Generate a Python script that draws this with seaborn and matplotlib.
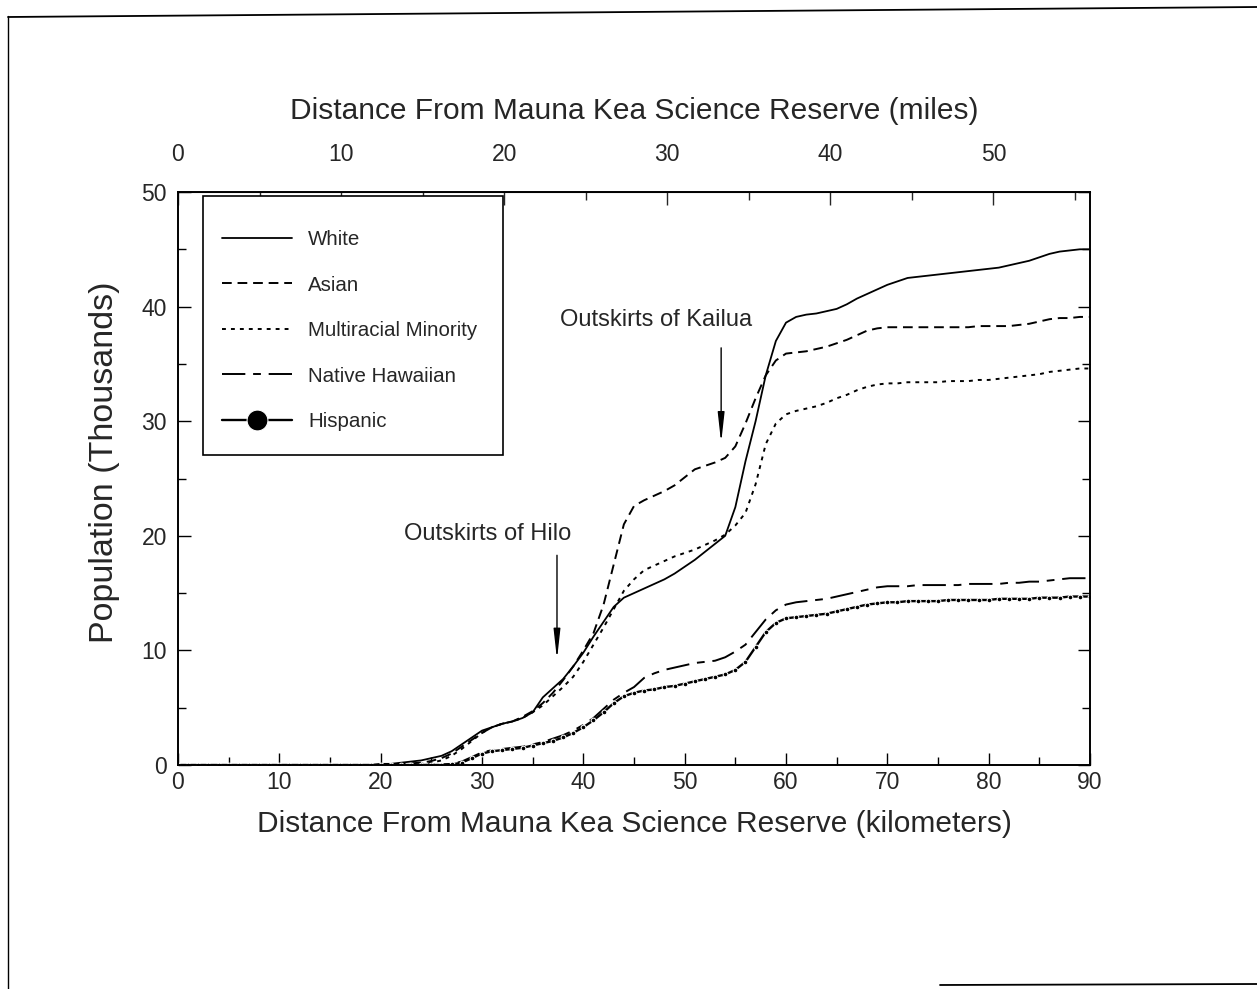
import numpy as np
import pandas as pd
import matplotlib
matplotlib.use("Agg")
import matplotlib.pyplot as plt
from matplotlib.lines import Line2D
from matplotlib.patches import Rectangle
from matplotlib.ticker import MultipleLocator
import seaborn as sns

# ---------------- data (population in thousands, by km from reserve) ----------------
km = list(range(0, 91))

white = [0]*20 + [
    0.1, 0.1, 0.2, 0.3, 0.4, 0.6, 0.8, 1.2, 1.8, 2.4,          # 20-29
    3.0, 3.3, 3.6, 3.8, 4.1, 4.6, 5.9, 6.7, 7.5, 8.6,          # 30-39
    9.8, 11.2, 12.5, 13.8, 14.6, 15.0, 15.4, 15.8, 16.2, 16.7, # 40-49
    17.3, 17.9, 18.6, 19.3, 20.0, 22.5, 26.5, 30.0, 34.0, 37.0,# 50-59
    38.6, 39.1, 39.3, 39.4, 39.6, 39.8, 40.2, 40.7, 41.1, 41.5,# 60-69
    41.9, 42.2, 42.5, 42.6, 42.7, 42.8, 42.9, 43.0, 43.1, 43.2,# 70-79
    43.3, 43.4, 43.6, 43.8, 44.0, 44.3, 44.6, 44.8, 44.9, 45.0,# 80-89
    45.0]

asian = [0]*21 + [
    0.05, 0.1, 0.15, 0.2, 0.35, 0.6, 1.0, 1.6, 2.2,            # 21-29
    2.8, 3.3, 3.6, 3.8, 4.2, 4.7, 5.4, 6.3, 7.4, 8.6,          # 30-39
    10.0, 11.5, 14.0, 17.5, 21.0, 22.6, 23.1, 23.5, 23.9, 24.4,# 40-49
    25.1, 25.8, 26.1, 26.4, 26.8, 27.8, 29.8, 32.0, 34.0, 35.3,# 50-59
    35.9, 36.0, 36.1, 36.3, 36.5, 36.8, 37.1, 37.5, 37.9, 38.1,# 60-69
    38.2, 38.2, 38.2, 38.2, 38.2, 38.2, 38.2, 38.2, 38.2, 38.3,# 70-79
    38.3, 38.3, 38.3, 38.4, 38.5, 38.7, 38.9, 39.0, 39.0, 39.1,# 80-89
    39.1]

multiracial = [0]*23 + [
    0.05, 0.1, 0.2, 0.4, 0.8, 1.4, 2.1,                        # 23-29
    2.8, 3.3, 3.6, 3.8, 4.1, 4.6, 5.2, 6.0, 6.8, 7.7,          # 30-39
    9.0, 10.5, 12.0, 13.6, 15.2, 16.2, 17.0, 17.4, 17.8, 18.2, # 40-49
    18.5, 18.8, 19.2, 19.6, 20.1, 20.9, 22.0, 24.5, 28.0, 29.8,# 50-59
    30.6, 30.9, 31.1, 31.3, 31.6, 32.0, 32.3, 32.7, 33.0, 33.2,# 60-69
    33.3, 33.3, 33.4, 33.4, 33.4, 33.4, 33.5, 33.5, 33.5, 33.6,# 70-79
    33.6, 33.7, 33.8, 33.9, 34.0, 34.1, 34.3, 34.4, 34.5, 34.6,# 80-89
    34.6]

native_hawaiian = [0]*25 + [
    0.02, 0.05, 0.1, 0.3, 0.7,                                 # 25-29
    1.1, 1.3, 1.4, 1.5, 1.6, 1.8, 2.0, 2.3, 2.6, 3.0,          # 30-39
    3.5, 4.1, 4.9, 5.7, 6.3, 6.8, 7.6, 8.0, 8.3, 8.5,          # 40-49
    8.7, 8.9, 9.0, 9.1, 9.4, 9.9, 10.5, 11.6, 12.7, 13.5,      # 50-59
    14.0, 14.2, 14.3, 14.4, 14.5, 14.7, 14.9, 15.1, 15.3, 15.5,# 60-69
    15.6, 15.6, 15.6, 15.7, 15.7, 15.7, 15.7, 15.7, 15.8, 15.8,# 70-79
    15.8, 15.8, 15.9, 15.9, 16.0, 16.0, 16.1, 16.2, 16.3, 16.3,# 80-89
    16.3]

hispanic = [0]*27 + [
    0.05, 0.2, 0.6,                                            # 27-29
    1.0, 1.2, 1.3, 1.4, 1.5, 1.7, 1.9, 2.1, 2.4, 2.8,          # 30-39
    3.3, 3.9, 4.6, 5.4, 6.0, 6.3, 6.5, 6.6, 6.8, 6.9,          # 40-49
    7.1, 7.3, 7.5, 7.7, 7.9, 8.3, 9.0, 10.3, 11.6, 12.4,       # 50-59
    12.8, 12.9, 13.0, 13.1, 13.2, 13.4, 13.6, 13.8, 14.0, 14.1,# 60-69
    14.2, 14.2, 14.3, 14.3, 14.3, 14.3, 14.4, 14.4, 14.4, 14.4,# 70-79
    14.4, 14.5, 14.5, 14.5, 14.5, 14.6, 14.6, 14.6, 14.7, 14.7,# 80-89
    14.7]

series_names = ["White", "Asian", "Multiracial Minority", "Native Hawaiian", "Hispanic"]
series_values = [white, asian, multiracial, native_hawaiian, hispanic]

x_ticks_km = [0, 10, 20, 30, 40, 50, 60, 70, 80, 90]
y_ticks = [0, 10, 20, 30, 40, 50]
top_ticks_mi = [0, 10, 20, 30, 40, 50]

annotations = [
    ("Outskirts of Hilo", 30.6, 20.2, 37.4, 18.3, 9.2),
    ("Outskirts of Kailua", 47.2, 38.8, 53.6, 36.4, 28.1),
]

# ---------------- styling ----------------
sns.set_style("ticks")
plt.rcParams['font.family'] = ['Liberation Sans', 'DejaVu Sans']

df = pd.DataFrame({"km": km})
for n, v in zip(series_names, series_values):
    df[n] = v

fig = plt.figure(figsize=(12.57, 9.89), dpi=100)
ax = fig.add_axes([178/1257, 1 - 765/989, 912/1257, 573/989])

styles = {
    "White": dict(linestyle="-", lw=1.3),
    "Asian": dict(linestyle=(0, (5, 3)), lw=1.4),
    "Multiracial Minority": dict(linestyle=(0, (2, 2.6)), lw=1.4),
    "Native Hawaiian": dict(linestyle=(0, (12, 4, 4, 4)), lw=1.4),
    "Hispanic": dict(linestyle="-", lw=1.7, marker="o", markersize=3.4),
}

for n in series_names:
    sns.lineplot(data=df, x="km", y=n, ax=ax, color="black", label=n,
                 legend=False, **styles[n])

ax.set_xlim(0, 90)
ax.set_ylim(0, 50)
ax.set_xticks(x_ticks_km)
ax.set_yticks(y_ticks)
ax.xaxis.set_minor_locator(MultipleLocator(5))
ax.yaxis.set_minor_locator(MultipleLocator(5))
ax.tick_params(which="both", direction="in", top=False, right=True,
               labelsize=16.5, color="black")
ax.tick_params(which="major", length=9, width=1)
ax.tick_params(which="minor", length=6, width=1)
ax.tick_params(axis="x", pad=4)
ax.tick_params(axis="y", pad=8)
for s in ax.spines.values():
    s.set_linewidth(1.4)
    s.set_color("black")

ax.set_xlabel("Distance From Mauna Kea Science Reserve (kilometers)",
              fontsize=21.5, labelpad=12)
ax.set_ylabel("Population (Thousands)", fontsize=24.5)
ax.yaxis.set_label_coords((120 - 178) / 912, (765 - 462) / 573)

secax = ax.secondary_xaxis("top", functions=(lambda k: k / 1.609344,
                                              lambda m: m * 1.609344))
secax.set_xticks(top_ticks_mi)
secax.xaxis.set_minor_locator(MultipleLocator(5))
secax.tick_params(which="both", direction="in", labelsize=16.5, pad=19)
secax.tick_params(which="major", length=9, width=1)
secax.tick_params(which="minor", length=6, width=1)
secax.set_xlabel("Distance From Mauna Kea Science Reserve (miles)",
                 fontsize=21.5, labelpad=17)

# annotations with arrows
for text, tx, ty, ax_x, a_y0, a_y1 in annotations:
    ax.text(tx, ty, text, fontsize=17, ha="center", va="center")
    ax.annotate("", xy=(ax_x, a_y1), xytext=(ax_x, a_y0),
                arrowprops=dict(arrowstyle="-|>,head_width=0.2,head_length=1.8",
                                color="black", lw=1.0, shrinkA=0, shrinkB=0))

# legend box (frame drawn separately so that padding matches the original)
ax.add_patch(Rectangle((25/912, (765 - 455)/573), 300/912, 259/573,
                       transform=ax.transAxes, facecolor="white",
                       edgecolor="black", lw=1.2, zorder=4))
leg = ax.legend(loc="upper left", bbox_to_anchor=((222 - 178)/912, (765 - 230)/573),
                borderaxespad=0, frameon=False, fontsize=14.8, handlelength=3.4,
                handletextpad=0.78, labelspacing=1.29, borderpad=0,
                numpoints=1)
leg.set_zorder(5)
for h in leg.legend_handles:
    h.set_color("black")
leg.legend_handles[4].set_markersize(15)

# scanned page frame
fig.add_artist(Line2D([8/1257, 8/1257], [0, 1 - 16/989], color="black", lw=1.0))
fig.add_artist(Line2D([8/1257, 1], [1 - 17/989, 1 - 7/989], color="black", lw=1.3))
fig.add_artist(Line2D([940/1257, 1], [1 - 985/989, 1 - 984/989], color="black", lw=1.3))

fig.savefig("out.png", dpi=100, facecolor="white")
